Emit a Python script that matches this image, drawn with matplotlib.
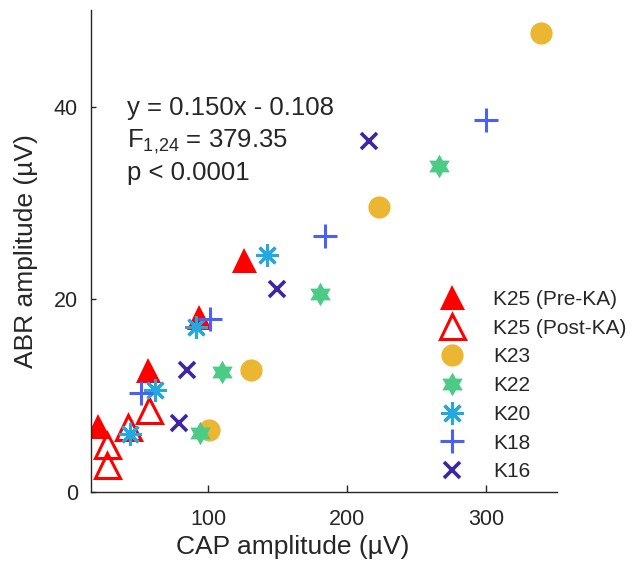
import numpy as np
import matplotlib
matplotlib.use("Agg")
import matplotlib.pyplot as plt

plt.rcParams["font.family"] = ["Liberation Sans", "DejaVu Sans"]
plt.rcParams["mathtext.fontset"] = "custom"
plt.rcParams["mathtext.rm"] = "Liberation Sans"

# CAP / ABR amplitudes (uV) per animal
k25_pre_cap = [21.1, 56.6, 93.1, 126.1]
k25_pre_abr = [6.85, 12.7, 18.2, 24.1]
k25_post_cap = [27.2, 27.6, 42.2, 57.7]
k25_post_abr = [4.9, 2.8, 6.7, 8.5]
k23_cap = [100.7, 131.1, 222.9, 339.0]
k23_abr = [6.4, 12.7, 29.6, 47.6]
k22_cap = [94.0, 109.8, 180.3, 266.3]
k22_abr = [6.1, 12.5, 20.5, 33.8]
k20_cap = [44.1, 61.8, 91.0, 142.1]
k20_abr = [6.0, 10.6, 17.1, 24.6]
k18_cap = [51.8, 101.4, 184.2, 299.6]
k18_abr = [10.25, 18.0, 26.6, 38.6]
k16_cap = [78.8, 84.6, 149.2, 215.4]
k16_abr = [7.2, 12.7, 21.1, 36.4]

labels = ["K25 (Pre-KA)", "K25 (Post-KA)", "K23", "K22", "K20", "K18", "K16"]
stats_lines = ["y = 0.150x - 0.108", r"F$_{\mathregular{1{,}24}}$ = 379.35", "p < 0.0001"]

# six-pointed star (MATLAB hexagram)
ang = np.deg2rad(90 + 30 * np.arange(12))
rad = np.where(np.arange(12) % 2 == 0, 1.0, 1 / np.sqrt(3))
hexagram = np.column_stack([rad * np.cos(ang), rad * np.sin(ang)])

txt = "#262626"
styles = [
    dict(marker="^", ms=18, color="#FF0000", mfc="#FF0000", mew=0),
    dict(marker="^", ms=18, color="#FF0000", mfc="none", mew=2.2),
    dict(marker="o", ms=16, color="#EBB732", mfc="#EBB732", mew=0),
    dict(marker=hexagram, ms=17, color="#4CCB86", mfc="#4CCB86", mew=0),
    dict(marker=(8, 2, 0), ms=16, color="#22A9E1", mew=2.2),
    dict(marker="+", ms=17, color="#4A61F6", mew=2.2),
    dict(marker="x", ms=11, color="#3D25A3", mew=2.6),
]
series = [(k25_pre_cap, k25_pre_abr), (k25_post_cap, k25_post_abr),
          (k23_cap, k23_abr), (k22_cap, k22_abr), (k20_cap, k20_abr),
          (k18_cap, k18_abr), (k16_cap, k16_abr)]

fig = plt.figure(figsize=(6.42, 5.63), dpi=100)
ax = fig.add_axes([0.141, 0.126, 0.726, 0.856])

handles = []
for (x, y), st, lab in zip(series, styles, labels):
    h, = ax.plot(x, y, linestyle="none", label=lab, **st)
    handles.append(h)

ax.set_xlim(15.4, 350.5)
ax.set_ylim(0, 50)
ax.set_xticks([100, 200, 300])
ax.set_yticks([0, 20, 40])
for s in ["top", "right"]:
    ax.spines[s].set_visible(False)
for s in ["left", "bottom"]:
    ax.spines[s].set_color(txt)
    ax.spines[s].set_linewidth(1.0)
ax.tick_params(axis="both", direction="in", colors=txt, labelsize=15.5, width=1.0)
ax.tick_params(axis="x", length=5, pad=12)
ax.tick_params(axis="y", length=3.5, pad=9)

ax.set_xlabel("CAP amplitude (µV)", fontsize=19, color=txt, va="center")
ax.set_ylabel("ABR amplitude (µV)", fontsize=19, color=txt, va="center")
ax.xaxis.set_label_coords(0.434, -0.1135)
ax.yaxis.set_label_coords(-0.138, 0.5)

for line, yb in zip(stats_lines, [0.782, 0.716, 0.647]):
    ax.text(0.079, yb, line, transform=ax.transAxes, fontsize=18.5,
            color=txt, va="baseline", ha="left")

ax.legend(handles=handles, loc="lower left", bbox_to_anchor=(0.73, 0.022),
          frameon=False, fontsize=15, labelspacing=0.47, handlelength=2.0,
          handletextpad=1.0, borderpad=0, borderaxespad=0, labelcolor=txt)

fig.savefig("out.png", dpi=100)
